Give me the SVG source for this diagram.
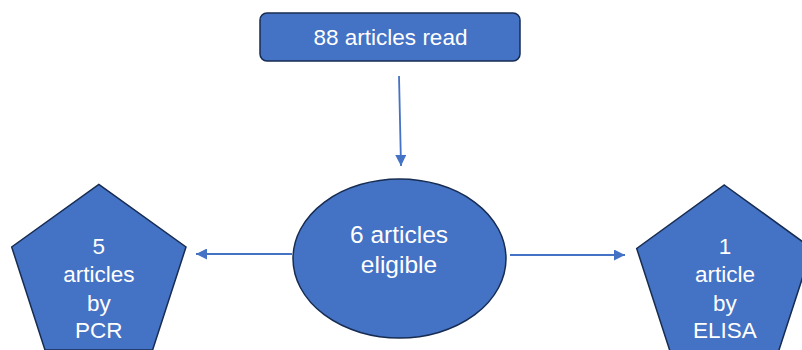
<svg xmlns="http://www.w3.org/2000/svg" width="802" height="350" viewBox="0 0 802 350">
<defs>
<marker id="ah" viewBox="0 0 10 10" refX="10" refY="5" markerWidth="11" markerHeight="11" markerUnits="userSpaceOnUse" orient="auto">
<path d="M0,0 L10,5 L0,10 z" fill="#4472C4"/>
</marker>
<style>
.node{fill:#4472C4;stroke:#172C51;stroke-width:1.5}
.lbl{fill:#ffffff;font-family:"Liberation Sans",Arial,sans-serif;font-size:22.5px;text-anchor:middle}
.conn{stroke:#4472C4;stroke-width:1.8;fill:none;marker-end:url(#ah)}
</style>
</defs>
<rect width="802" height="350" fill="#ffffff"/>
<g id="connectors">
<line class="conn" x1="399" y1="76" x2="401" y2="166"/>
<line class="conn" x1="292" y1="254" x2="196" y2="254"/>
<line class="conn" x1="510" y1="255" x2="625" y2="255"/>
</g>
<g id="read">
<rect class="node" x="260" y="13" width="260" height="48" rx="7"/>
<text class="lbl" x="390.5" y="45" style="font-size:22.5px">88 articles read</text>
</g>
<g id="eligible">
<ellipse class="node" cx="399.5" cy="258.5" rx="106.5" ry="79.5"/>
<text class="lbl" x="399" y="243" style="font-size:24.5px">6 articles</text>
<text class="lbl" x="399" y="273" style="font-size:24.5px">eligible</text>
</g>
<g id="pcr">
<polygon class="node" points="98.8,184.3 186,247 152.6,350 45,350 11.7,247"/>
<text class="lbl" x="98.8" y="254">5</text>
<text class="lbl" x="98.8" y="282">articles</text>
<text class="lbl" x="98.8" y="311">by</text>
<text class="lbl" x="98.8" y="338">PCR</text>
</g>
<g id="elisa">
<polygon class="node" points="724.3,185 812,248.5 778.5,351.5 670.1,351.5 636.7,248.5"/>
<text class="lbl" x="725" y="254">1</text>
<text class="lbl" x="725" y="282">article</text>
<text class="lbl" x="725" y="311">by</text>
<text class="lbl" x="725" y="338">ELISA</text>
</g>
</svg>
